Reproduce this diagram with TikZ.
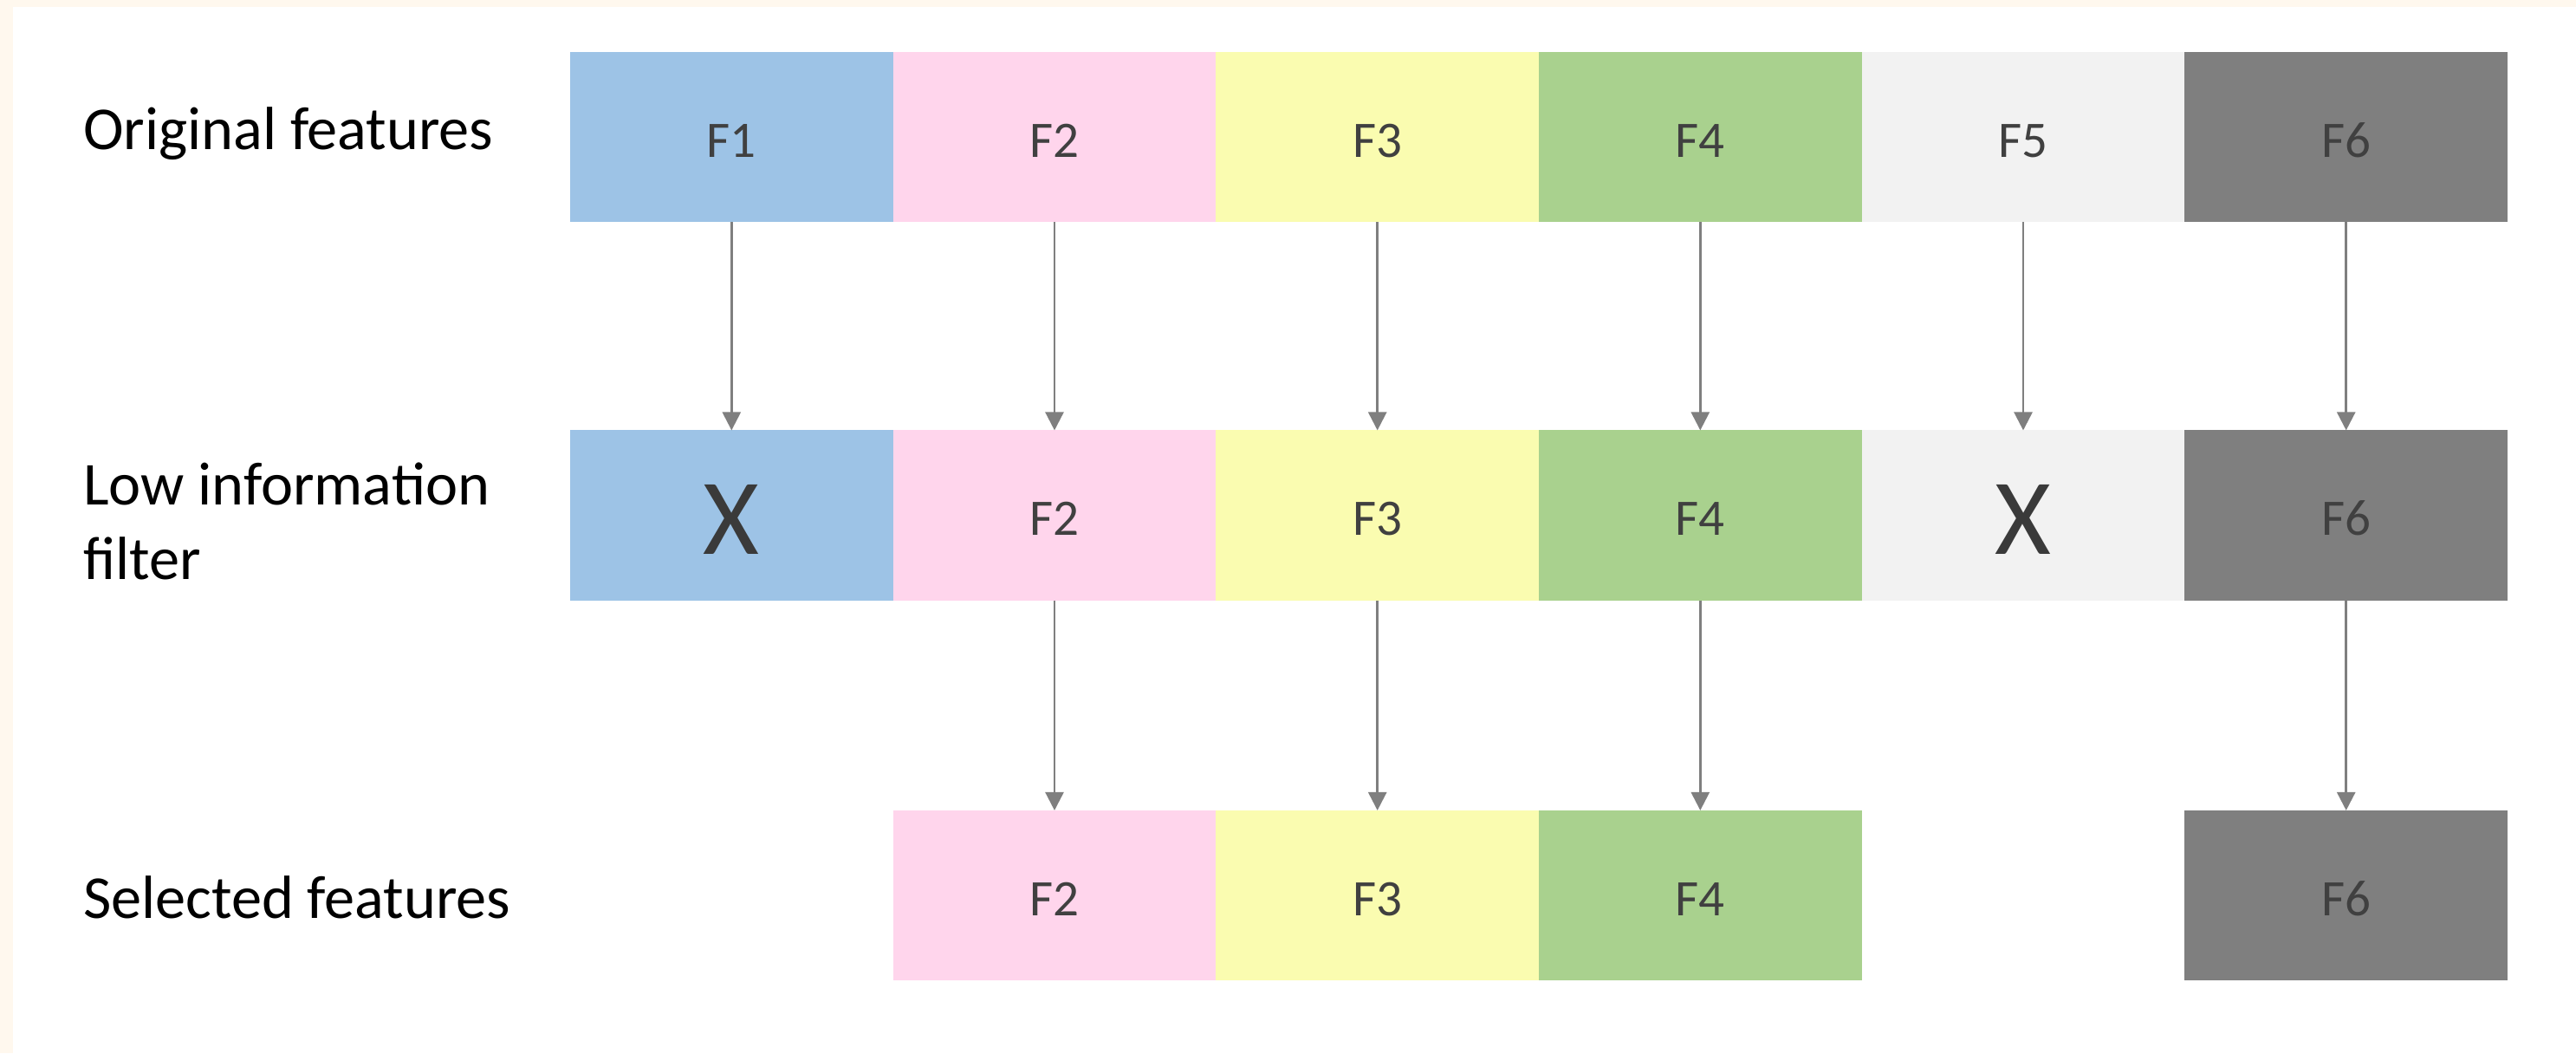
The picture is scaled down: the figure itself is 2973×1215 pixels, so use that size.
\documentclass[tikz,border=0pt]{standalone}
\usepackage{fontspec}
\setmainfont{Carlito}
\usetikzlibrary{arrows.meta}

\definecolor{pagecream}{HTML}{FFF8EE}
\definecolor{fone}{HTML}{9DC3E6}
\definecolor{ftwo}{HTML}{FFD5EC}
\definecolor{fthree}{HTML}{FAFCB0}
\definecolor{ffour}{HTML}{A9D18E}
\definecolor{ffive}{HTML}{F2F2F2}
\definecolor{fsix}{HTML}{7F7F7F}
\definecolor{boxtext}{HTML}{404040}
\definecolor{arrowgray}{HTML}{7F7F7F}

\tikzset{
  feat/.style={minimum width=3.7267cm, minimum height=1.96cm, inner sep=0pt, outer sep=0pt,
    font=\fontsize{16.8}{20}\selectfont, text=boxtext, text height=0.46cm, text depth=0pt},
  dropped/.style={feat, font=\fontsize{35.5}{40}\selectfont, text=boxtext!90!black, text height=0.89cm},
  rowlabel/.style={anchor=base west, inner sep=0pt, outer sep=0pt,
    font=\fontsize{20}{24}\selectfont, text=black},
  arr/.style={draw=arrowgray, line width=0.025cm, -{Triangle[length=0.21cm,width=0.21cm]}},
}

\begin{document}
\begin{tikzpicture}[x=0.01cm, y=-0.01cm]
  % page background with cream strips at the top and left
  \useasboundingbox (0,0) rectangle (2973,1215);
  \fill[pagecream] (0,0) rectangle (2973,1215);
  \fill[white] (15,8) rectangle (2973,1215);

  % row labels
  \node[rowlabel] (lorig) at (96,172) {Original features};
  \node[rowlabel] (llow) at (96,582) {Low information};
  \node[rowlabel] (lfilter) at (96,668) {filter};
  \node[rowlabel] (lsel) at (96,1059) {Selected features};

  % original features
  \node[feat, fill=fone]   (o1) at (844.3,158)  {F1};
  \node[feat, fill=ftwo]   (o2) at (1217.0,158) {F2};
  \node[feat, fill=fthree] (o3) at (1589.7,158) {F3};
  \node[feat, fill=ffour]  (o4) at (1962.3,158) {F4};
  \node[feat, fill=ffive]  (o5) at (2335.0,158) {F5};
  \node[feat, fill=fsix]   (o6) at (2707.7,158) {F6};

  % after the low information filter
  \node[dropped, fill=fone] (m1) at (844.3,594.5)  {X};
  \node[feat, fill=ftwo]    (m2) at (1217.0,594.5) {F2};
  \node[feat, fill=fthree]  (m3) at (1589.7,594.5) {F3};
  \node[feat, fill=ffour]   (m4) at (1962.3,594.5) {F4};
  \node[dropped, fill=ffive](m5) at (2335.0,594.5) {X};
  \node[feat, fill=fsix]    (m6) at (2707.7,594.5) {F6};

  % selected features
  \node[feat, fill=ftwo]   (s2) at (1217.0,1033) {F2};
  \node[feat, fill=fthree] (s3) at (1589.7,1033) {F3};
  \node[feat, fill=ffour]  (s4) at (1962.3,1033) {F4};
  \node[feat, fill=fsix]   (s6) at (2707.7,1033) {F6};

  % connectors
  \foreach \i in {1,...,6} { \draw[arr] (o\i.south) -- (m\i.north); }
  \foreach \i in {2,3,4,6} { \draw[arr] (m\i.south) -- (s\i.north); }
\end{tikzpicture}
\end{document}
